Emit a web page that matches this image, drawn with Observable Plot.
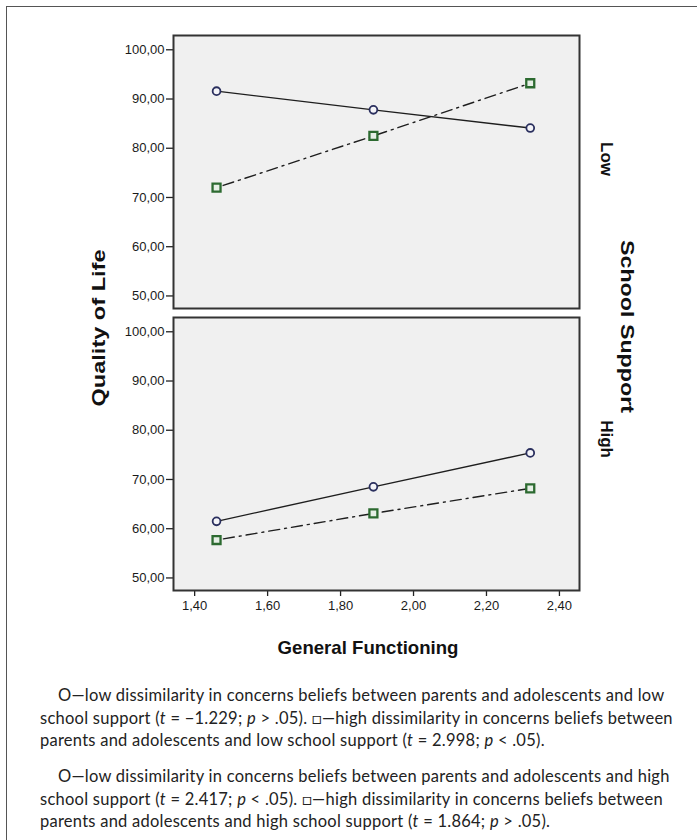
<!DOCTYPE html>
<html>
<head>
<meta charset="utf-8">
<script src="https://cdn.jsdelivr.net/npm/d3@7"></script>
<script src="https://cdn.jsdelivr.net/npm/@observablehq/plot@0.6"></script>
<style>
  html, body { margin: 0; padding: 0; background: #fff; }
  #wrap { position: relative; width: 697px; height: 840px; overflow: hidden; background: #fff; }
  #border { position: absolute; left: 6px; top: 6px; width: 700px; height: 850px;
            border-top: 1.5px solid #555; border-left: 1.5px solid #555; }
  #chart { position: absolute; left: 0; top: 0; }
  #overlay { position: absolute; left: 0; top: 0; pointer-events: none; }
  #caption { position: absolute; left: 0; top: 0; width: 697px;
             font-family: Lato, "Open Sans", sans-serif; font-size: 16.5px; letter-spacing: 0.25px; color: #222; }
  #caption .ln { position: absolute; white-space: nowrap; line-height: 1; }
</style>
</head>
<body>
<div id="wrap">
  <div id="border"></div>
  <div id="chart"></div>
  <svg id="overlay" width="697" height="840"></svg>
  <div id="caption"></div>
</div>
<script>
// ---- data ----
const functioning = [1.46, 1.89, 2.32];
const supportLevels = ["Low", "High"];
const lowDissLowSupport  = [91.6, 87.8, 84.1];
const highDissLowSupport = [72.0, 82.5, 93.2];
const lowDissHighSupport  = [61.5, 68.5, 75.4];
const highDissHighSupport = [57.7, 63.1, 68.2];
const yTicks = [50, 60, 70, 80, 90, 100];
const xTicks = [1.4, 1.6, 1.8, 2.0, 2.2, 2.4];
const xTitle = "General Functioning";
const yTitle = "Quality of Life";
const facetTitle = "School Support";
const captionLines = [
  ["O—low dissimilarity in concerns beliefs between parents and adolescents and low", true],
  ["school support (<i>t</i> = −1.229; <i>p</i> &gt; .05). □—high dissimilarity in concerns beliefs between", false],
  ["parents and adolescents and low school support (<i>t</i> = 2.998; <i>p</i> &lt; .05).", false],
  ["O—low dissimilarity in concerns beliefs between parents and adolescents and high", true],
  ["school support (<i>t</i> = 2.417; <i>p</i> &lt; .05). □—high dissimilarity in concerns beliefs between", false],
  ["parents and adolescents and high school support (<i>t</i> = 1.864; <i>p</i> &gt; .05).", false]
];

// ---- build tables ----
const lowRows = [], highRows = [];
functioning.forEach((x, i) => {
  lowRows.push({x, y: lowDissLowSupport[i], s: "Low"});
  lowRows.push({x, y: lowDissHighSupport[i], s: "High"});
  highRows.push({x, y: highDissLowSupport[i], s: "Low"});
  highRows.push({x, y: highDissHighSupport[i], s: "High"});
});
const fmt = d => d.toFixed(2).replace(".", ",");

const plot = Plot.plot({
  width: 697,
  height: 665,
  marginLeft: 173,
  marginRight: 118,
  marginTop: 35,
  marginBottom: 75,
  style: {fontFamily: "'Liberation Sans', Arial, sans-serif", fontSize: "13px", color: "#1a1a1a", background: "transparent"},
  x: {domain: [1.342, 2.455], label: null},
  y: {domain: [47.45, 102.9], label: null},
  fy: {domain: supportLevels, paddingInner: 0.032, paddingOuter: 0, label: null, axis: null},
  marks: [
    Plot.frame({fill: "#f0f0f0"}),
    Plot.axisY({ticks: yTicks, tickFormat: fmt, tickSize: 7, tickPadding: 2, label: null, stroke: "#222", strokeWidth: 1.3, fontSize: 13}),
    Plot.axisX({ticks: xTicks, tickFormat: fmt, tickSize: 6, tickPadding: 4, label: null, stroke: "#222", strokeWidth: 1.3, fontSize: 13}),
    Plot.line(lowRows, {x: "x", y: "y", fy: "s", stroke: "#1e1e1e", strokeWidth: 1.4}),
    Plot.line(highRows, {x: "x", y: "y", fy: "s", stroke: "#1e1e1e", strokeWidth: 1.4, strokeDasharray: "2,5,11,5"}),
    Plot.dot(lowRows, {x: "x", y: "y", fy: "s", symbol: "circle", r: 3.9, stroke: "#2a2f5e", strokeWidth: 1.8, fill: "#f4f4f8"}),
    Plot.dot(highRows, {x: "x", y: "y", fy: "s", symbol: "square", r: 4.5, stroke: "#2c6a30", strokeWidth: 2.3, fill: "#e6efe6"}),
    Plot.text(supportLevels, {fy: d => d, text: d => d, frameAnchor: "right", rotate: 90, dx: 27, dy: 4,
      fontWeight: "bold", fontSize: 17, fill: "#111", fontFamily: "'Liberation Sans', Arial, sans-serif"}),
    Plot.frame({stroke: "#333", strokeWidth: 2})
  ]
});
document.getElementById("chart").appendChild(plot);

// ---- titles ----
const ov = d3.select("#overlay");
const titleFont = "'Liberation Sans', Arial, sans-serif";
ov.append("text")
  .attr("transform", "translate(98,328) rotate(-90)")
  .attr("text-anchor", "middle").attr("dominant-baseline", "central")
  .attr("font-family", titleFont).attr("font-weight", "bold").attr("font-size", 18.6)
  .attr("textLength", 157).attr("lengthAdjust", "spacingAndGlyphs")
  .attr("fill", "#111").text(yTitle);
ov.append("text")
  .attr("transform", "translate(627,326.5) rotate(90)")
  .attr("text-anchor", "middle").attr("dominant-baseline", "central")
  .attr("font-family", titleFont).attr("font-weight", "bold").attr("font-size", 18.6)
  .attr("textLength", 173).attr("lengthAdjust", "spacingAndGlyphs")
  .attr("fill", "#111").text(facetTitle);
ov.append("text")
  .attr("x", 368).attr("y", 647)
  .attr("text-anchor", "middle").attr("dominant-baseline", "central")
  .attr("font-family", titleFont).attr("font-weight", "bold").attr("font-size", 18.6)
  .attr("fill", "#111").text(xTitle);

// ---- caption ----
const cap = document.getElementById("caption");
const tops = [687, 709.5, 732, 768, 790.5, 813];
captionLines.forEach(([html, indent], i) => {
  const d = document.createElement("div");
  d.className = "ln";
  d.style.left = (indent ? 58 : 40) + "px";
  d.style.top = tops[i] + "px";
  d.innerHTML = html;
  cap.appendChild(d);
});
</script>
</body>
</html>
